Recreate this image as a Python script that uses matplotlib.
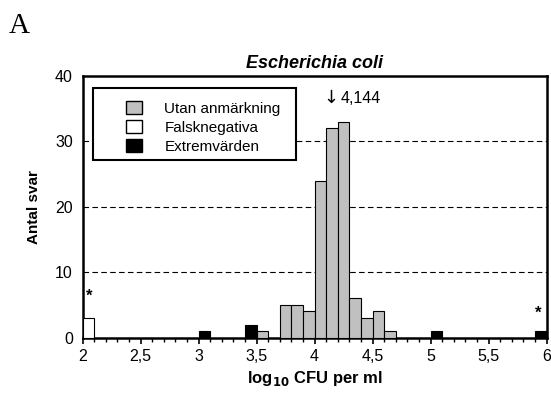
import matplotlib
matplotlib.use("Agg")
import matplotlib.pyplot as plt
from matplotlib.patches import Patch, Rectangle
from matplotlib.ticker import MultipleLocator

plt.rcParams['font.family'] = ['Liberation Sans', 'DejaVu Sans']

# Bin left edges (log10 CFU per ml) and counts
gray_x = [3.5, 3.7, 3.8, 3.9, 4.0, 4.1, 4.2, 4.3, 4.4, 4.5, 4.6]
gray_y = [1, 5, 5, 4, 24, 32, 33, 6, 3, 4, 1]
white_x = [2.0]
white_y = [3]
black_x = [3.0, 3.4, 5.0, 5.9]
black_y = [1, 2, 1, 1]

xticks = [2, 2.5, 3, 3.5, 4, 4.5, 5, 5.5, 6]
xticklabels = ["2", "2,5", "3", "3,5", "4", "4,5", "5", "5,5", "6"]
yticks = [0, 10, 20, 30, 40]
median_x = 4.144
median_label = "4,144"
star_x = [2.057, 5.93]
star_y = [6.4, 3.8]

fig = plt.figure(figsize=(5.51, 3.94), dpi=100)
ax = fig.add_axes([0.150, 0.143, 0.842, 0.664])

w = 0.1
ax.bar(gray_x, gray_y, width=w, align='edge', color='#c0c0c0', edgecolor='black', linewidth=0.8, zorder=3)
ax.bar(white_x, white_y, width=w, align='edge', color='white', edgecolor='black', linewidth=0.8, zorder=3)
ax.bar(black_x, black_y, width=w, align='edge', color='black', edgecolor='black', linewidth=0.8, zorder=3)

ax.set_xlim(2, 6)
ax.set_ylim(0, 40)
ax.set_xticks(xticks)
ax.set_xticklabels(xticklabels, fontsize=11.5)
ax.xaxis.set_minor_locator(MultipleLocator(0.1))
ax.set_yticks(yticks)
ax.set_yticklabels([str(v) for v in yticks], fontsize=11.5)
ax.tick_params(axis='x', which='major', direction='out', length=4, width=1.2, pad=4)
ax.tick_params(axis='x', which='minor', direction='out', length=3, width=1.0)
ax.tick_params(axis='y', which='major', direction='out', length=0, width=1.2, pad=7)

for y in [10, 20, 30]:
    ax.axhline(y, color='black', linestyle=(0, (5, 3)), linewidth=0.8, zorder=1)

for s in ax.spines.values():
    s.set_linewidth(1.8)

ax.set_title("Escherichia coli", fontsize=13, fontweight='bold', style='italic', pad=6)
ax.set_ylabel("Antal svar", fontsize=11, fontweight='bold', labelpad=10)
ax.set_xlabel(r"log$_{\mathbf{10}}$ CFU per ml", fontsize=12, fontweight='bold', labelpad=4)

# median annotation: arrow glyph pointing at the median, then the value
ax.text(median_x, 36.7, "\u2193", ha='center', va='center', fontsize=13,
        family=['DejaVu Sans'])
ax.text(median_x + 0.08, 36.6, median_label, ha='left', va='center', fontsize=11.5)
for sx, sy in zip(star_x, star_y):
    ax.text(sx, sy, "*", ha='center', va='center', fontsize=12, fontweight='bold')

# Legend: frame drawn as rectangle, entries via legend without frame
ax.add_patch(Rectangle((0.022, 0.679), 0.438, 0.275, transform=ax.transAxes,
                       facecolor='white', edgecolor='black', linewidth=1.5, zorder=5))
handles = [Patch(facecolor='#c0c0c0', edgecolor='black', label='Utan anmärkning'),
           Patch(facecolor='white', edgecolor='black', label='Falsknegativa'),
           Patch(facecolor='black', edgecolor='black', label='Extremvärden')]
leg = ax.legend(handles=handles, loc='upper left', bbox_to_anchor=(0.094, 0.905),
                fontsize=11, frameon=False,
                handlelength=1.0, handleheight=0.9, handletextpad=1.5,
                labelspacing=0.3, borderpad=0, borderaxespad=0)
leg.set_zorder(6)

fig.text(0.016, 0.968, "A", fontsize=21, family='Liberation Serif', va='top', ha='left')

fig.savefig("out.png", dpi=100)
